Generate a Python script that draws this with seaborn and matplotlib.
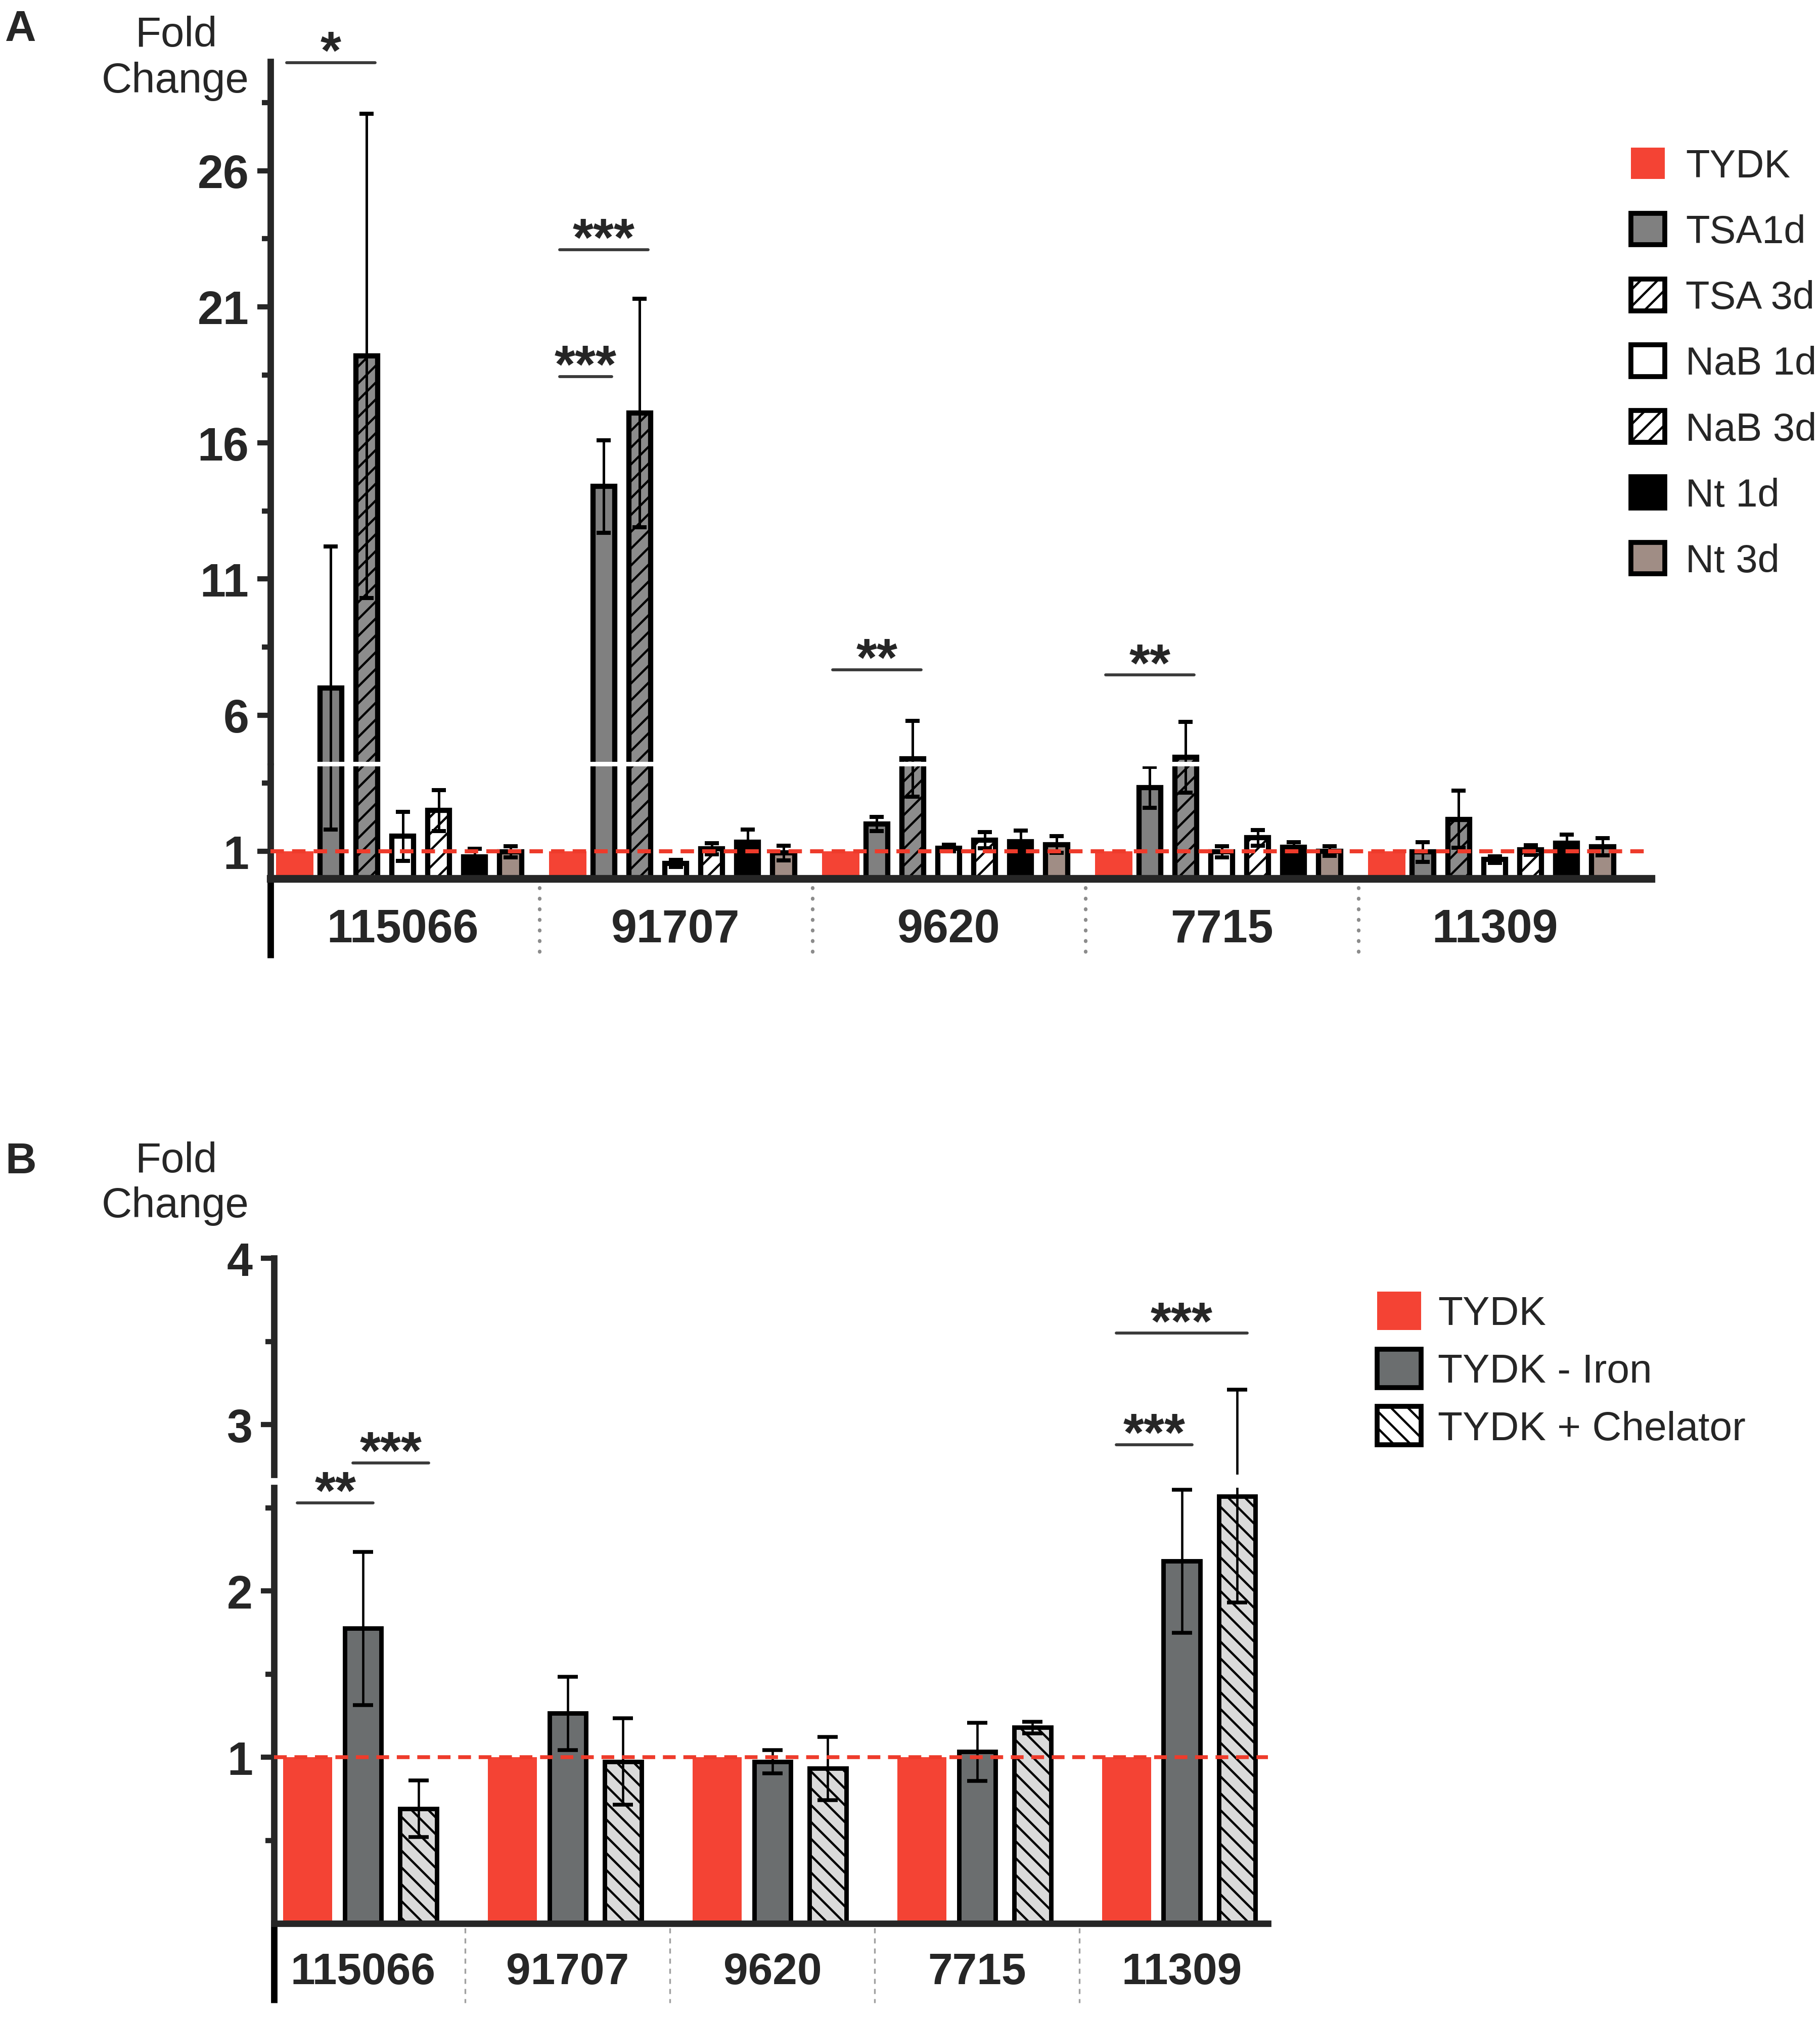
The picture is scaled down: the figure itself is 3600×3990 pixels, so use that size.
import numpy as np
import pandas as pd
import matplotlib
matplotlib.use("Agg")
import matplotlib.pyplot as plt
import seaborn as sns
from matplotlib import font_manager, transforms
from matplotlib.patches import Patch

# ---------------- data ----------------
genes = ["115066", "91707", "9620", "7715", "11309"]

conds_a = ["TYDK", "TSA1d", "TSA 3d", "NaB 1d", "NaB 3d", "Nt 1d", "Nt 3d"]
tydk_a = [1.0, 1.0, 1.0, 1.0, 1.0]
tydk_a_sd = [0, 0, 0, 0, 0]
tsa1d = [7.0, 14.4, 2.0, 3.35, 0.98]
tsa1d_sd = [5.2, 1.7, 0.26, 0.75, 0.36]
tsa3d = [19.2, 17.1, 4.4, 4.45, 2.18]
tsa3d_sd = [8.9, 4.2, 1.4, 1.3, 1.05]
nab1d = [1.55, 0.55, 1.12, 0.98, 0.70]
nab1d_sd = [0.9, 0.13, 0.12, 0.2, 0.12]
nab3d = [2.5, 1.09, 1.41, 1.5, 1.05]
nab3d_sd = [0.75, 0.2, 0.3, 0.29, 0.17]
nt1d = [0.79, 1.33, 1.36, 1.15, 1.29]
nt1d_sd = [0.3, 0.47, 0.4, 0.18, 0.33]
nt3d = [0.98, 0.94, 1.25, 1.01, 1.17]
nt3d_sd = [0.2, 0.27, 0.3, 0.18, 0.31]

conds_b = ["TYDK", "TYDK - Iron", "TYDK + Chelator"]
tydk_b = [1.0, 1.0, 1.0, 1.0, 1.0]
tydk_b_sd = [0, 0, 0, 0, 0]
iron = [1.775, 1.265, 0.974, 1.034, 2.18]
iron_sd = [0.46, 0.22, 0.07, 0.175, 0.43]
chelator = [0.69, 0.974, 0.934, 1.18, 2.57]
chelator_sd = [0.17, 0.26, 0.19, 0.035, 0.64]

# significance: (gene index, condition from, condition to, height, stars)
sig_a = [(0, 0, 2, 29.97, "*"), (1, 0, 2, 23.1, "***"), (1, 0, 1, 18.44, "***"),
         (2, 0, 2, 7.67, "**"), (3, 0, 2, 7.48, "**")]
sig_b = [(0, 0, 1, 2.53, "**"), (0, 1, 2, 2.77, "***"),
         (4, 0, 2, 3.55, "***"), (4, 0, 1, 2.88, "***")]

# ---------------- style ----------------
sns.set_style("white")
names = {f.name for f in font_manager.fontManager.ttflist}
HAS_NARROW = "Liberation Sans Narrow" in names
plt.rcParams["font.family"] = ["Liberation Sans", "DejaVu Sans"]
plt.rcParams["hatch.linewidth"] = 1.6
narrow = ["Liberation Sans Narrow", "Liberation Sans"] if HAS_NARROW else ["Liberation Sans"]

RED = "#f44334"
colors_a = [RED, "#808080", "#8c8c8c", "white", "white", "black", "#a08d85"]
hatch_a = ["", "", "//", "", "//", "", ""]
colors_b = [RED, "#6b6e6f", "#dadada"]
hatch_b = ["", "", "\\\\"]

# layout grid (reference picture at 1414 x 1568)
W, H = 1414.0, 1568.0


def fx(x):
    return x / W


def fy(y):
    return 1 - y / H


def long_df(conds, series):
    rows = []
    for cond, vals in zip(conds, series):
        for gene, v in zip(genes, vals):
            rows.append((gene, cond, v))
    return pd.DataFrame(rows, columns=["gene", "condition", "value"])


def add_axes(fig, x0, x1, ybot, ytop):
    ax = fig.add_axes([fx(x0), fy(ybot), fx(x1) - fx(x0), fy(ytop) - fy(ybot)])
    ax.patch.set_visible(False)
    return ax


def draw_bars(ax, df, conds, palette, hatches, slot, widths, lw, means, sds, ecfg):
    n = len(conds)
    sns.barplot(data=df, x="gene", y="value", hue="condition", order=genes,
                hue_order=conds, palette=palette, width=slot * n, saturation=1,
                errorbar=None, legend=False, ax=ax)
    centers = {}
    for p in ax.patches:
        c = p.get_x() + p.get_width() / 2
        g = int(round(c))
        k = int(round((c - g) / slot + (n - 1) / 2))
        w = widths[k]
        p.set_x(c - w / 2)
        p.set_width(w)
        if k == 0:
            p.set_edgecolor("none")
            p.set_linewidth(0)
        else:
            p.set_edgecolor("black")
            p.set_linewidth(lw)
        p.set_hatch(hatches[k])
        centers[(g, k)] = c
    for (g, k), c in centers.items():
        if sds[k][g] > 0:
            ax.errorbar(c, means[k][g], yerr=sds[k][g], fmt="none", ecolor="black",
                        zorder=3, **ecfg)
    ax.set_xlabel("")
    ax.set_ylabel("")
    return centers


def style_axis(ax, spine_lw, major, minor, labelsize):
    for s in ["top", "right"]:
        ax.spines[s].set_visible(False)
    ax.spines["left"].set_linewidth(spine_lw)
    ax.spines["bottom"].set_linewidth(spine_lw)
    ax.set_yticks(major, [str(t) for t in major], fontsize=labelsize, fontweight="bold")
    ax.set_yticks(minor, minor=True)
    ax.tick_params(axis="y", which="major", direction="out", length=9.2, width=3.7,
                   pad=6, left=True)
    ax.tick_params(axis="y", which="minor", direction="out", length=6, width=3.7, left=True)


def add_sig(ax, centers, sigs, ext):
    for g, i, j, y, lab in sigs:
        x0 = centers[(g, i)] - ext
        x1 = centers[(g, j)] + ext
        ax.plot([x0, x1], [y, y], color="#3a3a3a", lw=2.1, clip_on=False, zorder=6)
        ax.annotate(lab, xy=((x0 + x1) / 2, y), xytext=(0, -4), textcoords="offset points",
                    ha="center", va="baseline", fontsize=38, fontweight="bold",
                    annotation_clip=False, zorder=6)


fig = plt.figure(figsize=(18, 19.955), dpi=200)

# ================= Panel A =================
A_Y0, A_PX = 683.2, 21.16


def ya(v):
    return A_Y0 - A_PX * v


df_a = long_df(conds_a, [tydk_a, tsa1d, tsa3d, nab1d, nab3d, nt1d, nt3d])
means_a = [tydk_a, tsa1d, tsa3d, nab1d, nab3d, nt1d, nt3d]
sds_a = [tydk_a_sd, tsa1d_sd, tsa3d_sd, nab1d_sd, nab3d_sd, nt1d_sd, nt3d_sd]
slot_a = 28 / 212.5
widths_a = [0.136] + [0.08] * 6
ecfg_a = dict(elinewidth=1.8, capsize=5.2, capthick=2.9)

axA_lo = add_axes(fig, 210, 1283, ya(0), ya(4.12))
axA_hi = add_axes(fig, 210, 1283, ya(4.28), ya(30))
cen_a = None
for ax, lim in [(axA_lo, (0, 4.12)), (axA_hi, (4.28, 30))]:
    cen_a = draw_bars(ax, df_a, conds_a, colors_a, hatch_a, slot_a, widths_a, 3.7,
                      means_a, sds_a, ecfg_a)
    ax.set_ylim(*lim)
    ax.set_xlim(-0.485, 4.574)

style_axis(axA_hi, 4.6, [6, 11, 16, 21, 26], [8.5, 13.5, 18.5, 23.5, 28.5], 33)
axA_hi.spines["bottom"].set_visible(False)
axA_hi.set_xticks([])
style_axis(axA_lo, 4.6, [1], [3.5], 33)
axA_lo.spines["bottom"].set_linewidth(5.5)
axA_lo.set_xticks(range(len(genes)), genes, fontsize=33, fontweight="bold")
axA_lo.tick_params(axis="x", length=0, pad=21)
axA_lo.axhline(1, color="#ee3b2b", lw=2.9, dashes=(3.3, 2), zorder=4)

ext_a = (745 - 683.2) / (ya(0) - ya(4.12))
axA_lo.plot([0, 0], [0, -ext_a], transform=axA_lo.transAxes, color="black", lw=4.6,
            clip_on=False, solid_capstyle="butt")
tr = transforms.blended_transform_factory(axA_lo.transData, axA_lo.transAxes)
for xb in np.arange(0.5, len(genes) - 1, 1.0):
    axA_lo.plot([xb, xb], [-0.08, -ext_a], transform=tr, color="#8c8c8c", lw=2.6,
                linestyle=(0, (0.1, 2.8)), dash_capstyle="round", clip_on=False)

add_sig(axA_lo, cen_a, sig_a, 0.03)

fig.text(fx(4), fy(32), "A", fontsize=30.7, fontweight="bold", va="baseline", ha="left")
fc_size = 34.5 if HAS_NARROW else 30
fig.text(fx(137), fy(36), "Fold", fontsize=fc_size, family=narrow, ha="center", va="baseline")
fig.text(fx(136), fy(72), "Change", fontsize=fc_size, family=narrow, ha="center", va="baseline")

handles_a = []
for k, c in enumerate(conds_a):
    face = colors_a[k] if hatch_a[k] == "" else "white"
    handles_a.append(Patch(facecolor=face, edgecolor="none" if k == 0 else "black",
                           hatch=hatch_a[k], linewidth=0 if k == 0 else 3.5, label=c))
fig.legend(handles=handles_a, loc="upper left", bbox_to_anchor=(fx(1267), fy(115)),
           bbox_transform=fig.transFigure, frameon=False, borderpad=0, borderaxespad=0,
           fontsize=28, handlelength=0.86, handleheight=0.86, handletextpad=0.53,
           labelspacing=0.72)

# ================= Panel B =================
B_Y0, B_PX = 1495.5, 129.3


def yb(v):
    return B_Y0 - B_PX * v


df_b = long_df(conds_b, [tydk_b, iron, chelator])
means_b = [tydk_b, iron, chelator]
sds_b = [tydk_b_sd, iron_sd, chelator_sd]
slot_b = 43 / 159
widths_b = [0.239, 0.179, 0.179]
ecfg_b = dict(elinewidth=1.65, capsize=7.3, capthick=2.7)

axB_lo = add_axes(fig, 213, 985, yb(0), yb(2.62))
axB_hi = add_axes(fig, 213, 985, yb(2.70), yb(4.0))
cen_b = None
for ax, lim in [(axB_lo, (0, 2.62)), (axB_hi, (2.70, 4.0))]:
    cen_b = draw_bars(ax, df_b, conds_b, colors_b, hatch_b, slot_b, widths_b, 3.2,
                      means_b, sds_b, ecfg_b)
    ax.set_ylim(*lim)
    ax.set_xlim(-0.434, 4.42)

style_axis(axB_hi, 4.6, [3, 4], [3.5], 33)
axB_hi.spines["bottom"].set_visible(False)
axB_hi.set_xticks([])
style_axis(axB_lo, 4.6, [1, 2], [0.5, 1.5, 2.5], 33)
axB_lo.set_xticks(range(len(genes)), genes, fontsize=31.5, fontweight="bold")
axB_lo.tick_params(axis="x", length=0, pad=20)
axB_lo.axhline(1, color="#ee3b2b", lw=2.75, dashes=(3.3, 2), zorder=4)

ext_b = (1557 - 1495.5) / (yb(0) - yb(2.62))
axB_lo.plot([0, 0], [0, -ext_b], transform=axB_lo.transAxes, color="black", lw=4.6,
            clip_on=False, solid_capstyle="butt")
tr = transforms.blended_transform_factory(axB_lo.transData, axB_lo.transAxes)
for xb in np.arange(0.5, len(genes) - 1, 1.0):
    axB_lo.plot([xb, xb], [-0.01, -ext_b], transform=tr, color="#a0a0a0", lw=1.2,
                linestyle=(0, (3, 3)), clip_on=False)

add_sig(axB_lo, cen_b, sig_b, 0.05)

fig.text(fx(4), fy(912), "B", fontsize=30.7, fontweight="bold", va="baseline", ha="left")
fig.text(fx(137), fy(911), "Fold", fontsize=fc_size, family=narrow, ha="center", va="baseline")
fig.text(fx(136), fy(946), "Change", fontsize=fc_size, family=narrow, ha="center", va="baseline")

handles_b = []
for k, c in enumerate(conds_b):
    face = colors_b[k] if hatch_b[k] == "" else "white"
    handles_b.append(Patch(facecolor=face, edgecolor="none" if k == 0 else "black",
                           hatch=hatch_b[k], linewidth=0 if k == 0 else 3.5, label=c))
if HAS_NARROW:
    leg_b = dict(fontsize=35.7, handlelength=0.87, handleheight=0.87, handletextpad=0.33,
                 labelspacing=0.21)
    top_b = 1019 - 0.47 * 39
else:
    leg_b = dict(fontsize=28.9, handlelength=1.08, handleheight=1.08, handletextpad=0.41,
                 labelspacing=0.39)
    top_b = 1019 - 0.47 * 31.5
lg = fig.legend(handles=handles_b, loc="upper left", bbox_to_anchor=(fx(1070), fy(top_b)),
                bbox_transform=fig.transFigure, frameon=False, borderpad=0,
                borderaxespad=0, prop={"family": narrow, "size": leg_b.pop("fontsize")},
                **leg_b)

fig.savefig("out.png", dpi=200)
